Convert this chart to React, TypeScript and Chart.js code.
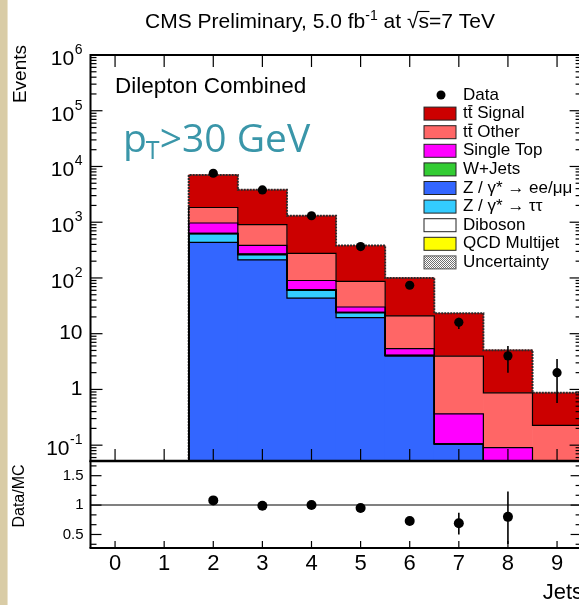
import React, { useEffect, useRef } from 'react';
import { Chart, registerables } from 'chart.js';

Chart.register(...registerables);

// ---------------- data ----------------
const JETS = [0, 1, 2, 3, 4, 5, 6, 7, 8, 9];
const X_TICK_LABELS = ['0', '1', '2', '3', '4', '5', '6', '7', '8', '9'];

const Z_LL = [0, 0, 436, 211, 43.6, 19.5, 4.0, 0.105, 0, 0];
const Z_TAUTAU = [0, 0, 179, 49, 16.2, 4.0, 0, 0, 0, 0];
const DIBOSON = [0, 0, 10, 5, 1.5, 0.5, 0.1, 0, 0, 0];
const W_JETS = [0, 0, 5, 2, 0.5, 0.2, 0, 0, 0, 0];
const QCD = [0, 0, 0, 0, 0, 0, 0, 0, 0, 0];
const SINGLE_TOP = [0, 0, 338, 118, 28.2, 5.9, 1.3, 0.26, 0.09, 0];
const TT_OTHER = [0, 0, 869, 517, 187, 56.5, 15.4, 3.6, 0.78, 0.226];
const TT_SIGNAL = [0, 0, 5213, 2903, 1029, 294.4, 79.2, 19.2, 4.2, 0.644];

const DATA = [null, null, 7566, 3800, 1306, 365, 74, 16, 4, 2];
const DATA_LO = [null, null, 7480, 3740, 1270, 346, 65.4, 12.2, 2.0, 0.57];
const DATA_HI = [null, null, 7650, 3860, 1342, 384, 82.6, 19.4, 6.0, 3.5];

const RATIO = [null, null, 1.08, 0.99, 1.0, 0.95, 0.73, 0.69, 0.8, null];
const RATIO_LO = [null, null, 1.06, 0.97, 0.97, 0.9, 0.66, 0.5, 0.34, null];
const RATIO_HI = [null, null, 1.1, 1.01, 1.03, 1.0, 0.8, 0.87, 1.23, null];

const Y_TICKS = [0.1, 1, 10, 100, 1e3, 1e4, 1e5, 1e6];
const Y_TICK_BASE = ['10', '1', '10', '10', '10', '10', '10', '10'];
const Y_TICK_EXP = ['-1', '', '', '2', '3', '4', '5', '6'];
const RATIO_TICKS = [0.5, 1, 1.5];
const RATIO_TICK_LABELS = ['0.5', '1', '1.5'];

const LABEL_TT_SIGNAL = 'tt\u0304 Signal';
const LABEL_TT_OTHER = 'tt\u0304 Other';
const LABEL_SINGLE_TOP = 'Single Top';
const LABEL_WJETS = 'W+Jets';
const LABEL_ZLL = 'Z / \u03b3* \u2192 ee/\u03bc\u03bc';
const LABEL_ZTT = 'Z / \u03b3* \u2192 \u03c4\u03c4';
const LABEL_DIBOSON = 'Diboson';
const LABEL_QCD = 'QCD Multijet';

// ---------------- styling / layout ----------------
const FONT = '"Liberation Sans", Arial, Helvetica, sans-serif';
const Y_MIN = 0.052;
const Y_MAX = 1e6;
const R_MIN = 0.27;
const R_MAX = 1.75;
const X_MIN = -0.5;
const X_MAX = 9.5;
const CANVAS_W = 600;
const CANVAS_H = 605;
const AREA = { left: 90.5, right: 581.6, top: 55, split: 461, bottom: 548 };

// stacking order bottom -> top
const COMPONENTS = [
  { label: LABEL_ZLL, color: '#3366ff', values: Z_LL },
  { label: LABEL_ZTT, color: '#33ccff', values: Z_TAUTAU },
  { label: LABEL_DIBOSON, color: '#ffffff', values: DIBOSON },
  { label: LABEL_WJETS, color: '#33cc33', values: W_JETS },
  { label: LABEL_QCD, color: '#ffff00', values: QCD },
  { label: LABEL_SINGLE_TOP, color: '#ff00ff', values: SINGLE_TOP },
  { label: LABEL_TT_OTHER, color: '#ff6666', values: TT_OTHER },
  { label: LABEL_TT_SIGNAL, color: '#cc0000', values: TT_SIGNAL },
];
const LEGEND_ORDER = [7, 6, 5, 3, 0, 1, 2, 4];

function line(ctx: CanvasRenderingContext2D, x1: number, y1: number, x2: number, y2: number) {
  ctx.beginPath();
  ctx.moveTo(x1, y1);
  ctx.lineTo(x2, y2);
  ctx.stroke();
}

function drawRich(ctx: CanvasRenderingContext2D, text: string, x: number, y: number) {
  const idx = text.indexOf('\u0304');
  if (idx < 0) {
    ctx.fillText(text, x, y);
    return;
  }
  const before = text.slice(0, idx);
  const after = text.slice(idx + 1);
  ctx.fillText(before, x, y);
  const wAll = ctx.measureText(before).width;
  const wLast = ctx.measureText(before.slice(-1)).width;
  ctx.fillRect(x + wAll - wLast + 0.5, y - 8.5, wLast - 0.5, 1.2);
  ctx.fillText(after, x + wAll, y);
}

function stipple(ctx: CanvasRenderingContext2D) {
  const c = document.createElement('canvas');
  c.width = 2;
  c.height = 2;
  const g = c.getContext('2d')!;
  g.fillStyle = '#ffffff';
  g.fillRect(0, 0, 2, 2);
  g.fillStyle = '#707070';
  g.fillRect(0, 0, 1, 1);
  g.fillRect(1, 1, 1, 1);
  return ctx.createPattern(c, 'repeat');
}

const mainPlugin = {
  id: 'mainDecor',
  beforeDraw(chart: any) {
    const ctx: CanvasRenderingContext2D = chart.ctx;
    ctx.save();
    ctx.fillStyle = '#ffffff';
    ctx.fillRect(0, 0, chart.width, chart.height);
    ctx.fillStyle = '#d9cca6';
    ctx.fillRect(0, 0, 7, chart.height);
    ctx.fillStyle = '#ebe3cc';
    ctx.fillRect(7, 0, 1, chart.height);
    ctx.restore();
  },
  afterDatasetsDraw(chart: any) {
    const ctx: CanvasRenderingContext2D = chart.ctx;
    const xs = chart.scales.x;
    const ys = chart.scales.y;
    ctx.save();
    ctx.strokeStyle = '#000';
    ctx.lineWidth = 1.6;
    JETS.forEach((j, i) => {
      const lo = DATA_LO[i];
      const hi = DATA_HI[i];
      if (lo == null || hi == null) return;
      const px = xs.getPixelForValue(j);
      line(ctx, px, ys.getPixelForValue(lo), px, ys.getPixelForValue(hi));
    });
    ctx.restore();
  },
  afterDraw(chart: any) {
    const ctx: CanvasRenderingContext2D = chart.ctx;
    const xs = chart.scales.x;
    const ys = chart.scales.y;
    const { left, right, top, bottom } = chart.chartArea;
    ctx.save();
    ctx.strokeStyle = '#000';
    ctx.fillStyle = '#000';

    // ticks
    ctx.lineWidth = 1.2;
    for (let e = -2; e <= 6; e++) {
      for (let m = 1; m <= 9; m++) {
        const v = m * Math.pow(10, e);
        if (v < Y_MIN || v > Y_MAX * 1.0001) continue;
        const py = ys.getPixelForValue(v);
        const len = m === 1 ? 12 : 6;
        line(ctx, left, py, left + len, py);
        line(ctx, right, py, right - len, py);
      }
    }
    JETS.forEach((j) => {
      const px = xs.getPixelForValue(j);
      line(ctx, px, top, px, top + 12);
      line(ctx, px, bottom, px, bottom - 12);
    });

    // frame
    ctx.lineWidth = 2;
    ctx.strokeRect(left, top, right - left, bottom - top);
    ctx.lineWidth = 2.6;
    line(ctx, left - 1, bottom, right, bottom);

    // y tick labels
    ctx.textAlign = 'right';
    ctx.textBaseline = 'middle';
    const rx = left - 8;
    Y_TICKS.forEach((v, i) => {
      const py = ys.getPixelForValue(v);
      const base = Y_TICK_BASE[i];
      const exp = Y_TICK_EXP[i];
      if (exp) {
        ctx.font = `14px ${FONT}`;
        const ew = ctx.measureText(exp).width;
        ctx.fillText(exp, rx, py - 5);
        ctx.font = `21px ${FONT}`;
        ctx.fillText(base, rx - ew - 0.5, py + 4);
      } else {
        ctx.font = `21px ${FONT}`;
        ctx.fillText(base, rx, py);
      }
    });

    // title (centred)
    ctx.textAlign = 'left';
    ctx.textBaseline = 'alphabetic';
    const big = `21px ${FONT}`;
    const small = `14px ${FONT}`;
    const ty = 28;
    ctx.font = big;
    const w1 = ctx.measureText('CMS Preliminary, 5.0 fb').width;
    const w3 = ctx.measureText(' at ').width;
    const sqW = ctx.measureText('\u221a').width;
    const sW = ctx.measureText('s').width;
    const w5 = ctx.measureText('=7 TeV').width;
    ctx.font = small;
    const w2 = ctx.measureText('-1').width;
    const total = w1 + w2 + w3 + sqW + sW + w5;
    let tx = 320 - total / 2;
    ctx.font = big;
    ctx.fillText('CMS Preliminary, 5.0 fb', tx, ty);
    tx += w1;
    ctx.font = small;
    ctx.fillText('-1', tx, ty - 8);
    tx += w2;
    ctx.font = big;
    ctx.fillText(' at ', tx, ty);
    tx += w3;
    ctx.fillText('\u221a', tx, ty);
    ctx.fillText('s', tx + sqW, ty);
    ctx.lineWidth = 1.1;
    line(ctx, tx + sqW - 1, ty - 16.5, tx + sqW + sW + 0.5, ty - 16.5);
    tx += sqW + sW;
    ctx.fillText('=7 TeV', tx, ty);

    // y axis title
    ctx.save();
    ctx.translate(21, 45);
    ctx.rotate(-Math.PI / 2);
    ctx.textAlign = 'right';
    ctx.textBaseline = 'middle';
    ctx.font = `19px ${FONT}`;
    ctx.fillText('Events', 0, 0);
    ctx.restore();

    // in-plot labels
    ctx.textAlign = 'left';
    ctx.textBaseline = 'middle';
    ctx.font = `22.5px ${FONT}`;
    ctx.fillText('Dilepton Combined', 115, 87);

    ctx.fillStyle = '#3a96a9';
    ctx.textBaseline = 'alphabetic';
    let px = 123;
    const pBase = 152;
    ctx.font = `39px "Open Sans", Lato, sans-serif`;
    ctx.fillText('p', px, pBase);
    px += ctx.measureText('p').width;
    ctx.font = `25px "Open Sans", Lato, sans-serif`;
    ctx.fillText('T', px - 1, pBase + 7);
    px += ctx.measureText('T').width - 1;
    ctx.font = `39px "Open Sans", Lato, sans-serif`;
    ctx.fillText('>30 GeV', px, pBase);

    // legend
    ctx.fillStyle = '#000';
    const rows = 18.6;
    const ly0 = 95;
    const bx = 424;
    const bw = 32;
    const bh = 13;
    const textX = 463;
    ctx.font = `17px ${FONT}`;
    ctx.textBaseline = 'middle';
    ctx.beginPath();
    ctx.arc(441, ly0, 4.5, 0, Math.PI * 2);
    ctx.fill();
    ctx.fillText('Data', textX, ly0);
    LEGEND_ORDER.forEach((ci, r) => {
      const c = COMPONENTS[ci];
      const cy = ly0 + rows * (r + 1);
      ctx.fillStyle = c.color;
      ctx.fillRect(bx, cy - bh / 2, bw, bh);
      ctx.strokeStyle = '#222';
      ctx.lineWidth = 1;
      ctx.strokeRect(bx, cy - bh / 2, bw, bh);
      ctx.fillStyle = '#000';
      drawRich(ctx, c.label, textX, cy);
    });
    const uy = ly0 + rows * (LEGEND_ORDER.length + 1);
    const pat = stipple(ctx);
    if (pat) ctx.fillStyle = pat;
    ctx.fillRect(bx, uy - bh / 2, bw, bh);
    ctx.strokeStyle = '#555';
    ctx.strokeRect(bx, uy - bh / 2, bw, bh);
    ctx.fillStyle = '#000';
    ctx.fillText('Uncertainty', textX, uy);

    ctx.restore();
  },
};

const ratioPlugin = {
  id: 'ratioDecor',
  afterDatasetsDraw(chart: any) {
    const ctx: CanvasRenderingContext2D = chart.ctx;
    const xs = chart.scales.x;
    const ys = chart.scales.y;
    ctx.save();
    ctx.strokeStyle = '#000';
    ctx.lineWidth = 1.6;
    JETS.forEach((j, i) => {
      const lo = RATIO_LO[i];
      const hi = RATIO_HI[i];
      if (lo == null || hi == null) return;
      const px = xs.getPixelForValue(j);
      line(ctx, px, ys.getPixelForValue(lo), px, ys.getPixelForValue(hi));
    });
    ctx.restore();
  },
  afterDraw(chart: any) {
    const ctx: CanvasRenderingContext2D = chart.ctx;
    const xs = chart.scales.x;
    const ys = chart.scales.y;
    const { left, right, top, bottom } = chart.chartArea;
    ctx.save();
    ctx.strokeStyle = '#000';
    ctx.fillStyle = '#000';
    ctx.lineWidth = 1.2;
    for (let k = 1; k <= 10; k++) {
      const v = k / 6;
      if (v < R_MIN || v > R_MAX) continue;
      const major = RATIO_TICKS.some((t) => Math.abs(t - v) < 1e-6);
      const py = ys.getPixelForValue(v);
      const len = major ? 11 : 6;
      line(ctx, left, py, left + len, py);
      line(ctx, right, py, right - len, py);
    }
    JETS.forEach((j) => {
      const px = xs.getPixelForValue(j);
      line(ctx, px, bottom, px, bottom - 7);
    });
    ctx.lineWidth = 2;
    line(ctx, left, top, left, bottom);
    line(ctx, right, top, right, bottom);
    line(ctx, left - 1, bottom, right, bottom);

    // labels
    ctx.textAlign = 'center';
    ctx.textBaseline = 'middle';
    ctx.font = `22px ${FONT}`;
    JETS.forEach((j, i) => {
      ctx.fillText(X_TICK_LABELS[i], xs.getPixelForValue(j), bottom + 16);
    });
    ctx.textAlign = 'right';
    ctx.font = `15px ${FONT}`;
    RATIO_TICKS.forEach((v, i) => {
      ctx.fillText(RATIO_TICK_LABELS[i], left - 7, ys.getPixelForValue(v));
    });

    ctx.save();
    ctx.translate(20, 496);
    ctx.rotate(-Math.PI / 2);
    ctx.textAlign = 'center';
    ctx.textBaseline = 'middle';
    ctx.font = `16px ${FONT}`;
    ctx.fillText('Data/MC', 0, 0);
    ctx.restore();

    ctx.textAlign = 'right';
    ctx.font = `22px ${FONT}`;
    ctx.fillText('Jets', 583, 593);
    ctx.restore();
  },
};

export default function App() {
  const mainRef = useRef<HTMLCanvasElement>(null);
  const ratioRef = useRef<HTMLCanvasElement>(null);

  useEffect(() => {
    if (!mainRef.current || !ratioRef.current) return;
    const floorVal = Y_MIN / 2;

    let run = JETS.map(() => 0);
    const levels = COMPONENTS.map((c) => {
      const lo = run.slice();
      run = run.map((v, i) => v + c.values[i]);
      return { lo, hi: run.slice() };
    });

    const barSets: any[] = COMPONENTS.map((c, k) => ({
      type: 'bar',
      label: c.label,
      data: JETS.map((j, i) => ({
        x: j,
        y: [levels[k].lo[i] > 0 ? levels[k].lo[i] : floorVal, levels[k].hi[i]],
      })).filter((_, i) => c.values[i] > 0),
      backgroundColor: c.color,
      borderWidth: 0,
      barPercentage: 1,
      categoryPercentage: 1,
      grouped: false,
      order: 3,
    }));

    const last = JETS.length - 1;
    const topLevel = COMPONENTS.length - 1;
    const outlineSets: any[] = levels.map((lv, k) => ({
      type: 'line',
      data: [
        ...JETS.map((j, i) => ({ x: j - 0.5, y: lv.hi[i] > 0 ? lv.hi[i] : floorVal })),
        { x: X_MAX, y: lv.hi[last] > 0 ? lv.hi[last] : floorVal },
      ],
      stepped: 'before',
      borderColor: k === topLevel ? '#2a2a2a' : '#000000',
      borderWidth: k === topLevel ? 2 : 1.2,
      borderDash: k === topLevel ? [2, 1] : [],
      pointRadius: 0,
      fill: false,
      order: 2,
    }));

    const dataSet: any = {
      type: 'line',
      label: 'Data',
      data: JETS.map((j, i) => ({ x: j, y: DATA[i] })).filter((d) => d.y != null),
      showLine: false,
      pointRadius: 4.6,
      pointBackgroundColor: '#000',
      pointBorderWidth: 0,
      order: 0,
    };

    const main = new Chart(mainRef.current, {
      type: 'bar',
      data: { datasets: [...barSets, ...outlineSets, dataSet] },
      options: {
        responsive: false,
        animation: false,
        devicePixelRatio: 1,
        events: [],
        layout: {
          padding: {
            left: AREA.left,
            top: AREA.top,
            right: CANVAS_W - AREA.right,
            bottom: CANVAS_H - AREA.split,
          },
        },
        plugins: { legend: { display: false }, tooltip: { enabled: false }, title: { display: false } },
        scales: {
          x: { type: 'linear', min: X_MIN, max: X_MAX, offset: false, display: false },
          y: { type: 'logarithmic', min: Y_MIN, max: Y_MAX, display: false },
        },
      } as any,
      plugins: [mainPlugin],
    });

    const ratio = new Chart(ratioRef.current, {
      type: 'line',
      data: {
        datasets: [
          {
            data: [
              { x: X_MIN, y: 1 },
              { x: X_MAX, y: 1 },
            ],
            borderColor: '#808080',
            borderWidth: 2,
            pointRadius: 0,
            order: 2,
          } as any,
          {
            data: JETS.map((j, i) => ({ x: j, y: RATIO[i] })).filter((d) => d.y != null),
            showLine: false,
            pointRadius: 5,
            pointBackgroundColor: '#000',
            pointBorderWidth: 0,
            order: 0,
          } as any,
        ],
      },
      options: {
        responsive: false,
        animation: false,
        devicePixelRatio: 1,
        events: [],
        layout: {
          padding: {
            left: AREA.left,
            top: AREA.split,
            right: CANVAS_W - AREA.right,
            bottom: CANVAS_H - AREA.bottom,
          },
        },
        plugins: { legend: { display: false }, tooltip: { enabled: false } },
        scales: {
          x: { type: 'linear', min: X_MIN, max: X_MAX, display: false },
          y: { type: 'linear', min: R_MIN, max: R_MAX, display: false },
        },
      } as any,
      plugins: [ratioPlugin],
    });

    return () => {
      main.destroy();
      ratio.destroy();
    };
  }, []);

  return (
    <div
      style={{
        position: 'absolute',
        left: 0,
        top: 0,
        width: 579,
        height: 605,
        overflow: 'hidden',
        background: '#ffffff',
      }}
    >
      <canvas ref={mainRef} width={CANVAS_W} height={CANVAS_H} style={{ position: 'absolute', left: 0, top: 0 }} />
      <canvas ref={ratioRef} width={CANVAS_W} height={CANVAS_H} style={{ position: 'absolute', left: 0, top: 0 }} />
    </div>
  );
}
